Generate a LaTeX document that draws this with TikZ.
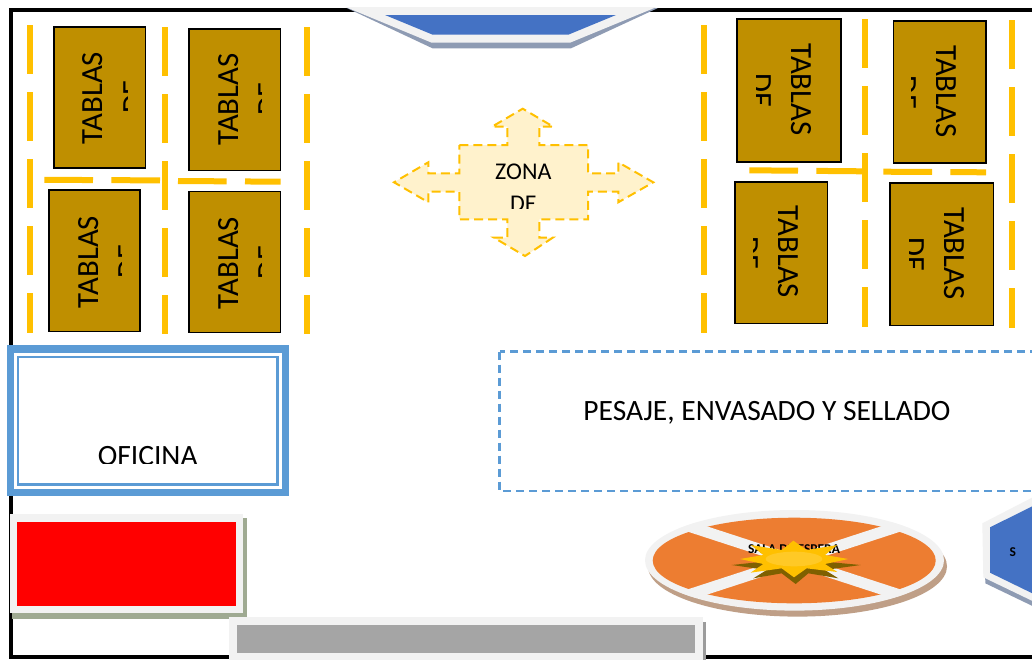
\documentclass[tikz,border=0pt]{standalone}
\usepackage{fontspec}
\setmainfont{Carlito}
\definecolor{amber}{HTML}{FFC000}
\definecolor{tablefill}{HTML}{BF8F00}
\definecolor{paleamber}{HTML}{FFF2CC}
\definecolor{skyblue}{HTML}{5B9BD5}
\definecolor{royal}{HTML}{4472C4}
\definecolor{bevel}{HTML}{F2F2F2}
\definecolor{slateshadow}{HTML}{8E9BB3}
\definecolor{olive}{HTML}{9FAA92}
\definecolor{barfill}{HTML}{A5A5A5}
\definecolor{barshadow}{HTML}{9C9C9C}
\definecolor{discfill}{HTML}{ED7D31}
\definecolor{discshadow}{HTML}{BF9F87}
\definecolor{starshadow}{HTML}{7F6000}
\tikzset{
  tablebox/.style={draw=black,line width=1.6pt,fill=tablefill},
  lane/.style={draw=amber,line width=6pt,dash pattern=on 48.7pt off 18.3pt},
  tabtext/.style={font=\fontsize{30.8}{30.8}\selectfont,inner sep=0pt,anchor=base,text=black},
  wordtext/.style={font=\fontsize{29.5}{29.5}\selectfont,inner sep=0pt,anchor=base,text=black},
  sidetext/.style={tabtext,rotate=90},
  downtext/.style={tabtext,rotate=270},
}
\begin{document}
\begin{tikzpicture}[x=1pt,y=-1pt]
\useasboundingbox (0,0) rectangle (1032,659);
\clip (0,0) rectangle (1032,659);
\fill[white] (0,0) rectangle (1032,659);
% room outline
\draw[black,line width=3.6pt] (11,10) rectangle (1045,657);
% lanes
\draw[lane] (30,25.3) -- (30,332.7);
\draw[lane] (165,27) -- (165,334.3);
\draw[lane] (307.3,27) -- (307.3,334.3);
\draw[lane] (44.3,179.8) -- (160,180.4);
\draw[lane] (178,181) -- (280.7,181.7);
\draw[lane] (703.7,25.3) -- (703.7,332.7);
\draw[lane] (865,19.3) -- (865,326.7);
\draw[lane] (1012.3,20) -- (1012.3,327.7);
\draw[lane] (749.3,170.3) -- (862.3,171.3);
\draw[lane] (883.3,171.7) -- (986,172.3);
% left tables
\draw[tablebox] (54,27) rectangle (145.5,168);
\node[sidetext] (t1a) at (102.7,98) {TABLAS};
\begin{scope}\clip (100,27) rectangle (127.3,168);
\node[sidetext] (t1b) at (143,97) {DE};\end{scope}
\draw[tablebox] (189,29) rectangle (280.5,170.5);
\node[sidetext] (t2a) at (238,99.5) {TABLAS};
\begin{scope}\clip (240,29) rectangle (261.7,170);
\node[sidetext] (t2b) at (278.3,99) {DE};\end{scope}
\draw[tablebox] (49,190) rectangle (140,331.5);
\node[sidetext] (t3a) at (98,262) {TABLAS};
\begin{scope}\clip (100,190) rectangle (121.7,331);
\node[sidetext] (t3b) at (138.3,261) {DE};\end{scope}
\draw[tablebox] (189,191.3) rectangle (280.5,332.3);
\node[sidetext] (t4a) at (238,263) {TABLAS};
\begin{scope}\clip (240,191) rectangle (261.7,332);
\node[sidetext] (t4b) at (278.3,262) {DE};\end{scope}
% right tables
\draw[tablebox] (737,19) rectangle (840.7,161.7);
\node[downtext] (t5a) at (791.7,89.5) {TABLAS};
\begin{scope}\clip (756.7,19) rectangle (790,161);
\node[downtext] (t5b) at (751.7,90.5) {DE};\end{scope}
\draw[tablebox] (893.3,21) rectangle (986,163);
\node[downtext] (t6a) at (936.7,91.5) {TABLAS};
\begin{scope}\clip (911.7,21) rectangle (930,163);
\node[downtext] (t6b) at (896.7,92.5) {DE};\end{scope}
\draw[tablebox] (734.7,181.7) rectangle (827.3,323.3);
\node[downtext] (t7a) at (778,252) {TABLAS};
\begin{scope}\clip (753.3,182) rectangle (775,323);
\node[downtext] (t7b) at (738.3,253) {DE};\end{scope}
\draw[tablebox] (890,182.7) rectangle (993.3,325.3);
\node[downtext] (t8a) at (944,253.5) {TABLAS};
\begin{scope}\clip (909,183) rectangle (940,325);
\node[downtext] (t8b) at (904,254.5) {DE};\end{scope}
% top hexagon
\fill[slateshadow] (346.7,8) -- (432.5,48.3) -- (571,48.3) -- (658,8) -- cycle;
\fill[bevel] (345.5,7) -- (431.7,42.7) -- (570,42.7) -- (656.7,7) -- cycle;
\fill[royal] (385,15) -- (432.7,34.7) -- (568.3,34.7) -- (616,15) -- cycle;
% central zone
\path[fill=paleamber,draw=amber,line width=2pt,dash pattern=on 9pt off 5pt]
  (459.3,145) -- (507.3,145) -- (507.3,126.7) -- (492,126.7) -- (522.7,108.7)
  -- (553.3,126.7) -- (539.3,126.7) -- (539.3,145) -- (588,145) -- (588,173.3)
  -- (618.3,173.3) -- (618.3,162.3) -- (653.3,182.3) -- (618.3,202.3) -- (618.3,191.7)
  -- (588,191.7) -- (588,219.3) -- (539.3,219.3) -- (539.3,237.7) -- (552.7,237.7)
  -- (525,256) -- (494,237.7) -- (507.3,237.7) -- (507.3,219.3) -- (459.3,219.3)
  -- (459.3,191.7) -- (428.3,191.7) -- (428.3,202.3) -- (394,182.3) -- (428.3,162.3)
  -- (428.3,173.3) -- (459.3,173.3) -- cycle;
\node[font=\fontsize{24}{24}\selectfont,inner sep=0pt,anchor=base] (zona) at (523.3,179) {ZONA};
\begin{scope}\clip (470,190) rectangle (580,208.3);
\node[font=\fontsize{24}{24}\selectfont,inner sep=0pt,anchor=base] (zonade) at (523.3,211) {DE};
\end{scope}
% office
\draw[skyblue,fill=white,line width=7.7pt] (10.5,348.8) rectangle (285.5,492.5);
\draw[skyblue,line width=2.2pt] (18.3,357) rectangle (277.5,484.5);
\begin{scope}\clip (60,440) rectangle (240,463.3);
\node[wordtext] (oficina) at (147.7,465.4) {OFICINA};
\end{scope}
% weighing area
\draw[skyblue,line width=2.4pt,dash pattern=on 8pt off 5pt] (499.5,351.5) rectangle (1045,491);
\node[wordtext] (pesaje) at (767,420) {PESAJE, ENVASADO Y SELLADO};
% red block
\fill[olive] (12,518.3) rectangle (246.7,619);
\fill[bevel] (10,514) rectangle (243.3,613.3);
\fill[red] (17.3,521.7) rectangle (235.7,605.7);
% grey bar
\fill[barshadow] (232,622) rectangle (706,665);
\fill[bevel] (229.3,617.3) rectangle (702.7,665);
\fill[barfill] (237.3,625.3) rectangle (695,652.7);
% right hexagon
\fill[slateshadow] (984.3,530) -- (1045,500) -- (1045,612) -- (985.3,583.3) -- cycle;
\fill[bevel] (982.3,523.3) -- (1045,491) -- (1045,607) -- (983.3,577.3) -- cycle;
\fill[royal] (990,527.3) -- (1045,500) -- (1045,599.5) -- (990,572.7) -- cycle;
\node[font=\bfseries\fontsize{13.5}{13.5}\selectfont,inner sep=0pt,anchor=base] (sign) at (1012.7,556) {S};
% waiting room disc
\fill[discshadow] (797.5,566.3) ellipse [x radius=149.5pt,y radius=50.3pt];
\fill[bevel] (794.5,560.3) ellipse [x radius=149.5pt,y radius=50.3pt];
\fill[discfill] (794.2,560.5) ellipse [x radius=141.5pt,y radius=42.8pt];
\begin{scope}
\clip (794.5,560.3) ellipse [x radius=149pt,y radius=50pt];
\draw[bevel,line width=11pt] (679,523) -- (909,598);
\draw[bevel,line width=11pt] (909,523) -- (679,598);
\end{scope}
\node[font=\bfseries\fontsize{13.5}{13.5}\selectfont,inner sep=0pt,anchor=base] (sala) at (794,553.3) {SALA DE ESPERA};
\begin{scope}[shift={(630,490)},x=0.3333pt,y=-0.3333pt]
\fill[starshadow] (497,282) -- (455,250) -- (370,265) -- (410,240) -- (305,225) -- (400,215)
  -- (585,215) -- (692,225) -- (585,240) -- (625,265) -- (535,250) -- cycle;
\fill[amber] (490,152) -- (530,180) -- (622,165) -- (585,195) -- (655,207) -- (585,222)
  -- (622,246) -- (530,235) -- (492,262) -- (455,235) -- (362,248) -- (400,222)
  -- (330,207) -- (400,195) -- (362,165) -- (455,180) -- cycle;
\fill[amber!85!white] (492,207) ellipse [x radius=28.3pt,y radius=7.3pt];
\end{scope}
\end{tikzpicture}
\end{document}
